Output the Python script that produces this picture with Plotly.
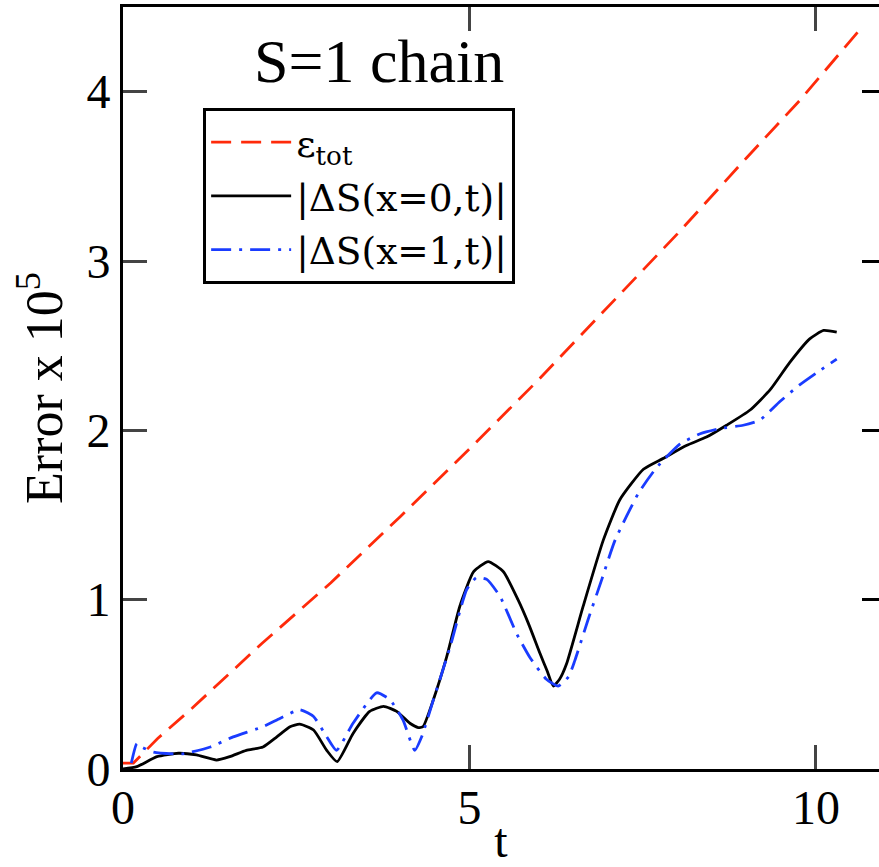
import plotly.graph_objects as go

# epsilon_tot (red dashed)
t_eps = [0.0, 0.15, 0.5, 1.0, 2.0, 3.0, 4.0, 5.0, 6.0, 7.0, 8.0, 9.0, 9.77, 10.6]
eps_tot = [0.035, 0.035, 0.18, 0.36, 0.74, 1.10, 1.49, 1.89, 2.30, 2.73, 3.16, 3.61, 3.95, 4.35]

# |dS(x=0,t)| (black solid)
t_x0 = [0.0, 0.2, 0.49, 0.80, 1.06, 1.35, 1.54, 1.78, 2.02, 2.22, 2.41, 2.55, 2.75, 2.94, 3.09,
        3.32, 3.56, 3.76, 3.95, 4.14, 4.26, 4.33, 4.48, 4.67, 4.86, 5.06, 5.27, 5.49, 5.70,
        5.85, 6.02, 6.12, 6.21, 6.30, 6.40, 6.64, 6.93, 7.17, 7.51, 7.80, 8.13, 8.42, 8.71,
        9.05, 9.34, 9.62, 9.91, 10.11, 10.30]
ds_x0 = [0.0, 0.014, 0.073, 0.093, 0.083, 0.053, 0.073, 0.11, 0.13, 0.19, 0.25, 0.265, 0.23,
         0.11, 0.043, 0.21, 0.34, 0.37, 0.34, 0.27, 0.245, 0.25, 0.41, 0.66, 0.96, 1.165,
         1.225, 1.165, 1.00, 0.86, 0.68, 0.58, 0.49, 0.53, 0.62, 0.96, 1.35, 1.59, 1.77,
         1.835, 1.91, 1.96, 2.03, 2.12, 2.24, 2.40, 2.54, 2.59, 2.58]

# |dS(x=1,t)| (blue dash-dot)
t_x1 = [0.12, 0.2, 0.27, 0.44, 0.85, 1.26, 1.59, 2.02, 2.27, 2.55, 2.75, 2.94, 3.08, 3.32,
        3.66, 3.85, 4.04, 4.21, 4.31, 4.48, 4.72, 4.96, 5.10, 5.25, 5.44, 5.68, 5.87, 6.11,
        6.28, 6.43, 6.52, 6.71, 6.91, 7.10, 7.44, 7.70, 8.04, 8.33, 8.61, 8.95, 9.19, 9.48,
        9.77, 10.01, 10.30]
ds_x1 = [0.035, 0.15, 0.13, 0.10, 0.089, 0.13, 0.19, 0.25, 0.30, 0.35, 0.31, 0.19, 0.11, 0.27,
         0.45, 0.41, 0.29, 0.11, 0.19, 0.41, 0.72, 1.06, 1.13, 1.12, 1.02, 0.80, 0.66, 0.53,
         0.49, 0.545, 0.64, 0.88, 1.12, 1.35, 1.63, 1.78, 1.92, 1.98, 2.01, 2.03, 2.06, 2.17,
         2.27, 2.34, 2.42]

x_ticks = [0, 5, 10]
y_ticks = [0, 1, 2, 3, 4]

FONT = "Times New Roman, Liberation Serif, serif"
LEGEND_FONT = "DejaVu Serif, serif"

fig = go.Figure()
fig.add_trace(go.Scatter(x=t_eps, y=eps_tot, mode="lines", name="ε<sub>tot</sub>",
                         legendgroup="a",
                         line=dict(color="#ff2a0a", width=2.8, dash="20px,10px")))
fig.add_trace(go.Scatter(x=t_x0, y=ds_x0, mode="lines", name="|ΔS(x=0,t)|",
                         legendgroup="b",
                         line=dict(color="black", width=2.8, shape="spline", smoothing=0.5)))
fig.add_trace(go.Scatter(x=t_x1, y=ds_x1, mode="lines", name="|ΔS(x=1,t)|",
                         legendgroup="c",
                         line=dict(color="#1a3cff", width=2.8, dash="20px,8px,3px,8px",
                                   shape="spline", smoothing=0.5)))
# empty trace to host the right-hand tick axis
fig.add_trace(go.Scatter(x=[], y=[], yaxis="y2", showlegend=False, hoverinfo="skip"))

fig.update_layout(
    width=879, height=867,
    margin=dict(l=123, r=0, t=7, b=98, autoexpand=False),
    paper_bgcolor="white", plot_bgcolor="white",
    font=dict(family=FONT, color="black", size=48),
    showlegend=True,
    legend=dict(x=0.106, y=0.867, xanchor="left", yanchor="top",
                bgcolor="white", bordercolor="black", borderwidth=3,
                font=dict(family=LEGEND_FONT, size=37.5), itemwidth=80,
                tracegroupgap=2),
    xaxis=dict(range=[0, 10.91], tickvals=x_ticks, ticks="inside", ticklen=24, tickwidth=3,
               showline=True, linewidth=3, linecolor="black", mirror="ticks",
               showgrid=False, zeroline=False, automargin=False, ticklabelstandoff=-6,
               tickfont=dict(family=FONT, size=48),
               title=dict(text="t", font=dict(family=FONT, size=48), standoff=9)),
    yaxis=dict(range=[0, 4.5], tickvals=y_ticks, ticks="inside", ticklen=24, tickwidth=3,
               showline=True, linewidth=3, linecolor="black", mirror=False,
               showgrid=False, zeroline=False, automargin=False,
               tickfont=dict(family=FONT, size=48),
               title=dict(text="Error x 10<sup>5</sup>", font=dict(family=FONT, size=52),
                          standoff=8)),
    yaxis2=dict(range=[0, 4.5], tickvals=y_ticks, overlaying="y", side="right",
                ticks="inside", ticklen=17, tickwidth=3, tickcolor="black", automargin=False,
                showticklabels=False, showline=False, showgrid=False, zeroline=False),
    annotations=[dict(text="S=1 chain", x=0.339, y=0.929, xref="paper", yref="paper",
                      xanchor="center", yanchor="middle",
                      showarrow=False, font=dict(family=FONT, size=62, color="black"))],
)

fig.write_html("out.html", config={"displayModeBar": False},
               post_script="document.body.style.margin='0';document.body.style.overflow='hidden';")
